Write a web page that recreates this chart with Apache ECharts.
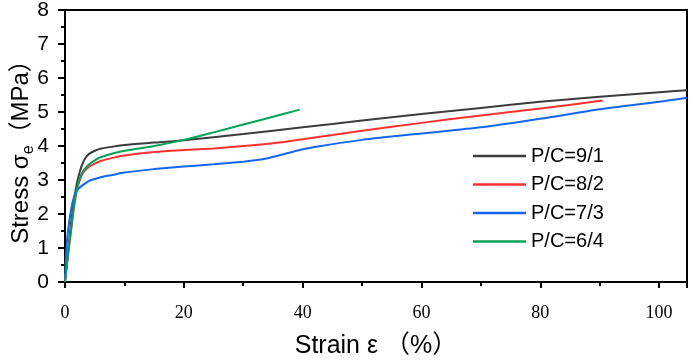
<!DOCTYPE html>
<html>
<head>
<meta charset="utf-8">
<script src="https://cdn.jsdelivr.net/npm/echarts@6/dist/echarts.min.js"></script>
<style>
  html, body { margin: 0; padding: 0; background: #fff; }
  #main { width: 692px; height: 362px; }
</style>
</head>
<body>
<div id="main"></div>
<script>
var seriesNames = ['P/C=9/1', 'P/C=8/2', 'P/C=7/3', 'P/C=6/4'];
var seriesColors = ['#3c3c3c', '#ff3030', '#1466f0', '#00a25a'];

// [strain %, stress MPa]
var pc91 = [[0,0],[0.5,0.9],[1,1.7],[1.5,2.4],[2,2.9],[2.5,3.25],[3,3.5],[3.5,3.66],[4,3.76],[5,3.86],[6,3.92],[8,3.98],[10,4.03],[15,4.1],[20,4.17],[30,4.35],[40,4.55],[50,4.75],[60,4.94],[70,5.12],[80,5.3],[90,5.45],[100,5.58],[104.7,5.64]];
var pc82 = [[0,0],[0.5,0.8],[1,1.5],[1.5,2.2],[2,2.7],[2.5,3.0],[3,3.2],[4,3.38],[5,3.48],[6,3.56],[8,3.65],[10,3.72],[15,3.82],[20,3.88],[25,3.93],[30,4.0],[35,4.08],[40,4.2],[50,4.45],[60,4.68],[70,4.9],[80,5.1],[90.5,5.34]];
var pc73 = [[0,0],[0.2,0.9],[0.5,1.5],[1,2.1],[1.5,2.5],[2,2.7],[3,2.85],[4,2.97],[5,3.03],[6,3.08],[8,3.15],[10,3.22],[15,3.32],[20,3.4],[25,3.46],[30,3.54],[33,3.6],[36,3.72],[39,3.86],[42,3.97],[50,4.18],[60,4.37],[70,4.55],[80,4.8],[90,5.08],[100,5.3],[104.7,5.42]];
var pc64 = [[0,0],[0.5,0.8],[1,1.5],[1.5,2.2],[2,2.75],[2.5,3.05],[3,3.25],[4,3.45],[5,3.58],[6,3.67],[8,3.78],[10,3.86],[15,4.0],[20,4.18],[25,4.4],[30,4.63],[35,4.86],[39.5,5.07]];
var allData = [pc91, pc82, pc73, pc64];

var chart = echarts.init(document.getElementById('main'));

var series = [];
for (var i = 0; i < seriesNames.length; i++) {
  series.push({
    name: seriesNames[i],
    type: 'line',
    data: allData[i],
    symbol: 'none',
    smooth: 0.25,
    color: seriesColors[i],
    lineStyle: { width: 2, color: seriesColors[i] }
  });
}

var option = {
  animation: false,
  grid: {
    left: 65, right: 5, top: 10, bottom: 80,
    outerBoundsMode: 'none',
    containLabel: false,
    show: true, borderColor: '#000', borderWidth: 2
  },
  legend: {
    orient: 'vertical',
    left: 468, top: 141,
    icon: 'rect',
    itemWidth: 53, itemHeight: 2.5, itemGap: 8.5,
    data: seriesNames,
    textStyle: { fontFamily: 'Liberation Sans, Arial, sans-serif', fontSize: 20, lineHeight: 20, color: '#000' }
  },
  xAxis: {
    type: 'value',
    min: 0, max: 104.7, interval: 20,
    name: 'Strain ε （%）',
    nameLocation: 'middle',
    nameGap: 52,
    nameMoveOverlap: false,
    nameTextStyle: { fontFamily: 'Liberation Sans, "Noto Sans CJK SC", sans-serif', fontSize: 25, color: '#000' },
    axisLine: { lineStyle: { color: '#000', width: 2 } },
    axisTick: { inside: false, length: 6, lineStyle: { width: 2 } },
    minorTick: { show: true, splitNumber: 2, length: 4, lineStyle: { color: '#000', width: 2 } },
    splitLine: { show: false },
    axisLabel: {
      showMaxLabel: false,
      margin: 22,
      fontFamily: 'Liberation Serif, "Times New Roman", serif',
      fontSize: 18, color: '#000'
    }
  },
  yAxis: {
    type: 'value',
    min: 0, max: 8, interval: 1,
    name: '{a|Stress σ}{s|e}{a|（MPa）}',
    nameLocation: 'middle',
    nameGap: 28,
    nameMoveOverlap: false,
    nameTextStyle: {
      fontFamily: 'Liberation Sans, "Noto Sans CJK SC", sans-serif',
      color: '#000',
      rich: {
        a: { fontSize: 24, lineHeight: 32, fontFamily: 'Liberation Sans, "Noto Sans CJK SC", sans-serif', color: '#000' },
        s: { fontSize: 16, lineHeight: 16, verticalAlign: 'bottom', fontFamily: 'Liberation Sans, sans-serif', color: '#000' }
      }
    },
    axisLine: { show: true, lineStyle: { color: '#000', width: 2 } },
    axisTick: { show: true, inside: false, length: 7, lineStyle: { width: 2 } },
    minorTick: { show: true, splitNumber: 2, length: 4, lineStyle: { color: '#000', width: 2 } },
    splitLine: { show: false },
    axisLabel: {
      margin: 16,
      fontFamily: 'Liberation Sans, Arial, sans-serif',
      fontSize: 21, color: '#000'
    }
  },
  series: series
};

chart.setOption(option);
</script>
</body>
</html>
